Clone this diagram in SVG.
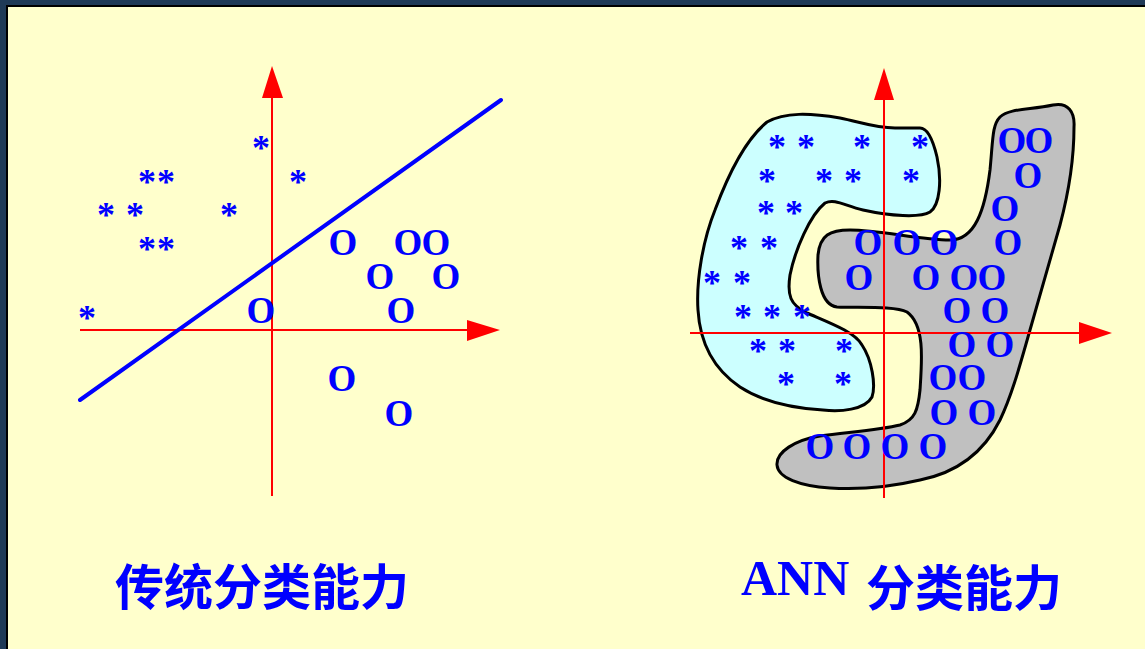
<svg xmlns="http://www.w3.org/2000/svg" width="1145" height="649" viewBox="0 0 1145 649">
<defs>
<style>
.ax{stroke:#ff0000;stroke-width:2;fill:none}
.ah{fill:#ff0000}
.s{font-family:"Liberation Serif","Times New Roman",serif;font-weight:bold;font-size:36px;fill:#0000ff;text-anchor:middle}
.o{font-family:"Liberation Serif","Times New Roman",serif;font-weight:bold;font-size:37px;fill:#0000ff;text-anchor:middle}
.t{font-family:"Liberation Sans","Noto Sans CJK SC",sans-serif;font-weight:bold;font-size:49px;fill:#0000ff}
.e{font-family:"Liberation Serif","Times New Roman",serif;font-weight:bold;font-size:50px;fill:#0000ff}
.blob{stroke:#000000;stroke-width:3;stroke-linejoin:round}
</style>
</defs>
<rect x="0" y="0" width="1145" height="649" fill="#1f3a57"/>
<rect x="6" y="5" width="1139" height="644" fill="#000000"/>
<rect x="8" y="7" width="1137" height="642" fill="#ffffcc"/>

<g id="left-axes">
<line class="ax" x1="272" y1="96" x2="272" y2="496"/>
<polygon class="ah" points="272,66 262,98 283,98"/>
<line class="ax" x1="80" y1="330" x2="470" y2="330"/>
<polygon class="ah" points="500,330 467,320 467,341"/>
</g>
<g id="left-boundary">
<line x1="80" y1="400" x2="501" y2="100" stroke="#0000ff" stroke-width="4" stroke-linecap="round"/>
</g>
<g id="left-stars">
<text class="s" x="261" y="160">*</text>
<text class="s" x="147" y="194">*</text>
<text class="s" x="166" y="194">*</text>
<text class="s" x="298" y="194">*</text>
<text class="s" x="106" y="227">*</text>
<text class="s" x="135" y="227">*</text>
<text class="s" x="229" y="227">*</text>
<text class="s" x="147" y="261">*</text>
<text class="s" x="166" y="261">*</text>
<text class="s" x="87" y="330">*</text>
</g>
<g id="left-circles">
<text class="o" x="343" y="255">O</text>
<text class="o" x="408" y="255">O</text>
<text class="o" x="436" y="255">O</text>
<text class="o" x="380" y="289">O</text>
<text class="o" x="446" y="289">O</text>
<text class="o" x="261" y="323">O</text>
<text class="o" x="401" y="323">O</text>
<text class="o" x="342" y="391">O</text>
<text class="o" x="399" y="426">O</text>
</g>
<g id="left-title">
<text class="t" x="115" y="605">传统分类能力</text>
</g>

<g id="ann-star-region">
<path class="blob" fill="#ccffff" d="M 767,122 C 785,112 810,113 840,118 C 860,122 875,128 895,128 L 920,128 C 928,128 933,140 937,157 C 942,180 940,205 930,212 C 920,218 890,216 863,210 C 845,206 835,198 825,203 C 810,215 795,250 790,275 C 787,295 790,305 807,313 C 830,323 855,332 862,345 C 872,360 876,385 872,397 C 865,410 840,412 823,410 C 790,408 760,400 740,387 C 715,370 700,345 698,310 C 696,280 703,240 715,210 C 728,175 745,140 767,122 Z"/>
</g>
<g id="ann-circle-region">
<path class="blob" fill="#c0c0c0" d="M 1000,117 C 1010,108 1030,110 1053,105 C 1068,102 1075,112 1074,127 C 1074,160 1068,195 1060,225 L 1030,330 C 1020,365 1012,395 1000,420 C 985,450 960,472 920,480 C 890,487 860,490 830,488 C 800,486 778,478 777,465 C 776,452 795,440 820,436 C 850,432 880,430 900,425 C 915,420 918,410 920,390 C 922,360 925,325 907,312 C 895,306 860,308 837,307 C 820,305 817,275 818,255 C 820,235 830,230 850,230 C 880,230 920,240 950,240 C 975,240 985,210 990,170 C 993,140 992,125 1000,117 Z"/>
</g>
<g id="right-axes">
<line class="ax" x1="884" y1="98" x2="884" y2="498"/>
<polygon class="ah" points="884,68 874,100 894,100"/>
<line class="ax" x1="690" y1="333" x2="1082" y2="333"/>
<polygon class="ah" points="1112,333 1079,322 1079,344"/>
</g>
<g id="right-stars">
<text class="s" x="777" y="159">*</text>
<text class="s" x="806" y="159">*</text>
<text class="s" x="862" y="159">*</text>
<text class="s" x="920" y="159">*</text>
<text class="s" x="767" y="193">*</text>
<text class="s" x="824" y="193">*</text>
<text class="s" x="853" y="193">*</text>
<text class="s" x="911" y="193">*</text>
<text class="s" x="766" y="225">*</text>
<text class="s" x="794" y="225">*</text>
<text class="s" x="739" y="260">*</text>
<text class="s" x="769" y="260">*</text>
<text class="s" x="712" y="295">*</text>
<text class="s" x="742" y="295">*</text>
<text class="s" x="743" y="329">*</text>
<text class="s" x="772" y="329">*</text>
<text class="s" x="802" y="329">*</text>
<text class="s" x="758" y="363">*</text>
<text class="s" x="787" y="363">*</text>
<text class="s" x="844" y="363">*</text>
<text class="s" x="786" y="396">*</text>
<text class="s" x="843" y="396">*</text>
</g>
<g id="right-circles">
<text class="o" x="1012" y="153">O</text>
<text class="o" x="1039" y="153">O</text>
<text class="o" x="1028" y="188">O</text>
<text class="o" x="1005" y="221">O</text>
<text class="o" x="868" y="255">O</text>
<text class="o" x="907" y="255">O</text>
<text class="o" x="944" y="255">O</text>
<text class="o" x="1008" y="255">O</text>
<text class="o" x="859" y="290">O</text>
<text class="o" x="926" y="290">O</text>
<text class="o" x="964" y="290">O</text>
<text class="o" x="992" y="290">O</text>
<text class="o" x="957" y="323">O</text>
<text class="o" x="995" y="323">O</text>
<text class="o" x="962" y="357">O</text>
<text class="o" x="1000" y="357">O</text>
<text class="o" x="943" y="390">O</text>
<text class="o" x="972" y="390">O</text>
<text class="o" x="944" y="425">O</text>
<text class="o" x="982" y="425">O</text>
<text class="o" x="820" y="459">O</text>
<text class="o" x="857" y="459">O</text>
<text class="o" x="895" y="459">O</text>
<text class="o" x="933" y="459">O</text>
</g>
<g id="right-title">
<text class="e" x="741" y="595">ANN</text>
<text class="t" x="866" y="606">分类能力</text>
</g>
</svg>
